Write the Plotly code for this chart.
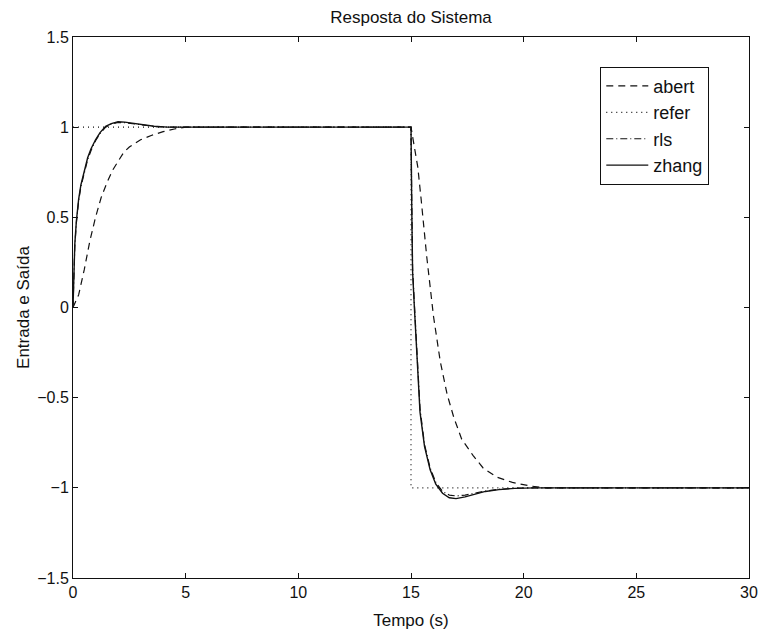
import plotly.graph_objects as go

# Time samples (s) and responses for each controller
t_abert = [0, 0.25, 0.5, 0.75, 1.0, 1.25, 1.5, 1.75, 2.0, 2.25, 2.5, 3.0, 3.5, 4.0, 4.5, 5.0,
           15.0, 15.1, 15.3, 15.45, 15.55, 15.7, 15.8, 16.0, 16.3, 16.6, 16.9, 17.25, 17.75,
           18.2, 18.8, 19.5, 20.3, 21.0, 30.0]
y_abert = [0, 0.07, 0.21, 0.37, 0.5, 0.61, 0.69, 0.76, 0.81, 0.86, 0.89, 0.93, 0.955, 0.975, 0.99, 1.0,
           1.0, 0.92, 0.78, 0.6, 0.46, 0.28, 0.17, -0.05, -0.3, -0.48, -0.61, -0.73, -0.82,
           -0.89, -0.94, -0.97, -0.99, -1.0, -1.0]

t_refer = [0, 15.0, 15.0, 30.0]
y_refer = [1, 1, -1, -1]

t_rls = [0, 0.03, 0.08, 0.15, 0.25, 0.35, 0.5, 0.65, 0.8, 1.0, 1.2, 1.45, 1.7, 2.0, 2.3, 2.7,
         3.1, 3.6, 4.2, 5.0, 15.0, 15.03, 15.07, 15.15, 15.25, 15.4, 15.6, 15.85, 16.1, 16.4,
         16.7, 17.0, 17.4, 17.8, 18.3, 18.9, 19.6, 20.5, 30.0]
y_rls = [0, 0.19, 0.34, 0.47, 0.59, 0.67, 0.75, 0.82, 0.87, 0.925, 0.965, 1.0, 1.018, 1.026, 1.025, 1.018,
         1.01, 1.004, 1.0, 1.0, 1.0, 0.62, 0.22, 0.02, -0.23, -0.56, -0.76, -0.89, -0.97, -1.02,
         -1.04, -1.045, -1.04, -1.03, -1.018, -1.008, -1.002, -1.0, -1.0]

t_zhang = [0, 0.03, 0.08, 0.15, 0.25, 0.35, 0.5, 0.65, 0.8, 1.0, 1.2, 1.45, 1.7, 2.0, 2.3, 2.7,
           3.1, 3.6, 4.2, 5.0, 15.0, 15.03, 15.07, 15.15, 15.25, 15.4, 15.6, 15.85, 16.1, 16.4,
           16.7, 17.0, 17.4, 17.8, 18.3, 18.9, 19.6, 20.5, 30.0]
y_zhang = [0, 0.2, 0.35, 0.48, 0.6, 0.68, 0.76, 0.83, 0.88, 0.93, 0.97, 1.005, 1.02, 1.03, 1.028, 1.02,
           1.012, 1.005, 1.0, 1.0, 1.0, 0.6, 0.2, 0.0, -0.25, -0.58, -0.77, -0.9, -0.98, -1.03,
           -1.055, -1.06, -1.05, -1.035, -1.02, -1.01, -1.003, -1.0, -1.0]

x_ticks = [0, 5, 10, 15, 20, 25, 30]
y_ticks = [-1.5, -1, -0.5, 0, 0.5, 1, 1.5]
y_ticktext = ["\u22121.5", "\u22121", "\u22120.5", "0", "0.5", "1", "1.5"]

FONT = "Liberation Sans, Arial, sans-serif"
INK = "#111111"

fig = go.Figure()
fig.add_trace(go.Scatter(x=t_abert, y=y_abert, name="abert", mode="lines",
                         line=dict(color=INK, width=1.2, dash="7px,5px")))
fig.add_trace(go.Scatter(x=t_refer, y=y_refer, name="refer", mode="lines",
                         line=dict(color=INK, width=1.2, dash="1px,4px")))
fig.add_trace(go.Scatter(x=t_rls, y=y_rls, name="rls", mode="lines",
                         line=dict(color=INK, width=1.2, dash="7px,3px,1px,3px")))
fig.add_trace(go.Scatter(x=t_zhang, y=y_zhang, name="zhang", mode="lines",
                         line=dict(color=INK, width=1.4)))

axis_common = dict(
    showgrid=False, zeroline=False, showline=True, linecolor=INK, linewidth=1,
    mirror="ticks", ticks="inside", ticklen=5, tickwidth=1, tickcolor=INK,
    tickfont=dict(family=FONT, size=16, color=INK), automargin=False,
)

fig.update_layout(
    width=764, height=632,
    margin=dict(l=73, r=15, t=37, b=54),
    paper_bgcolor="white", plot_bgcolor="white",
    font=dict(family=FONT, size=16, color=INK),
    title=dict(text="Resposta do Sistema", x=(73 + 749) / 2 / 764, xanchor="center",
               y=1 - 17 / 632, yanchor="middle", yref="container",
               font=dict(family=FONT, size=17, color=INK)),
    xaxis=dict(range=[0, 30], tickvals=x_ticks, ticktext=[str(v) for v in x_ticks],
               title=dict(text="Tempo (s)", standoff=13, font=dict(family=FONT, size=17, color=INK)),
               **axis_common),
    yaxis=dict(range=[-1.5, 1.5], tickvals=y_ticks, ticktext=y_ticktext,
               title=dict(text="Entrada e Saída", standoff=3, font=dict(family=FONT, size=17, color=INK)),
               **axis_common),
    legend=dict(x=0.78, y=0.945, xanchor="left", yanchor="top",
                bgcolor="white", bordercolor=INK, borderwidth=1,
                font=dict(family=FONT, size=18, color=INK),
                tracegroupgap=0, itemwidth=42, entrywidth=103, entrywidthmode="pixels"),
    showlegend=True,
)

fig.write_html("out.html")
